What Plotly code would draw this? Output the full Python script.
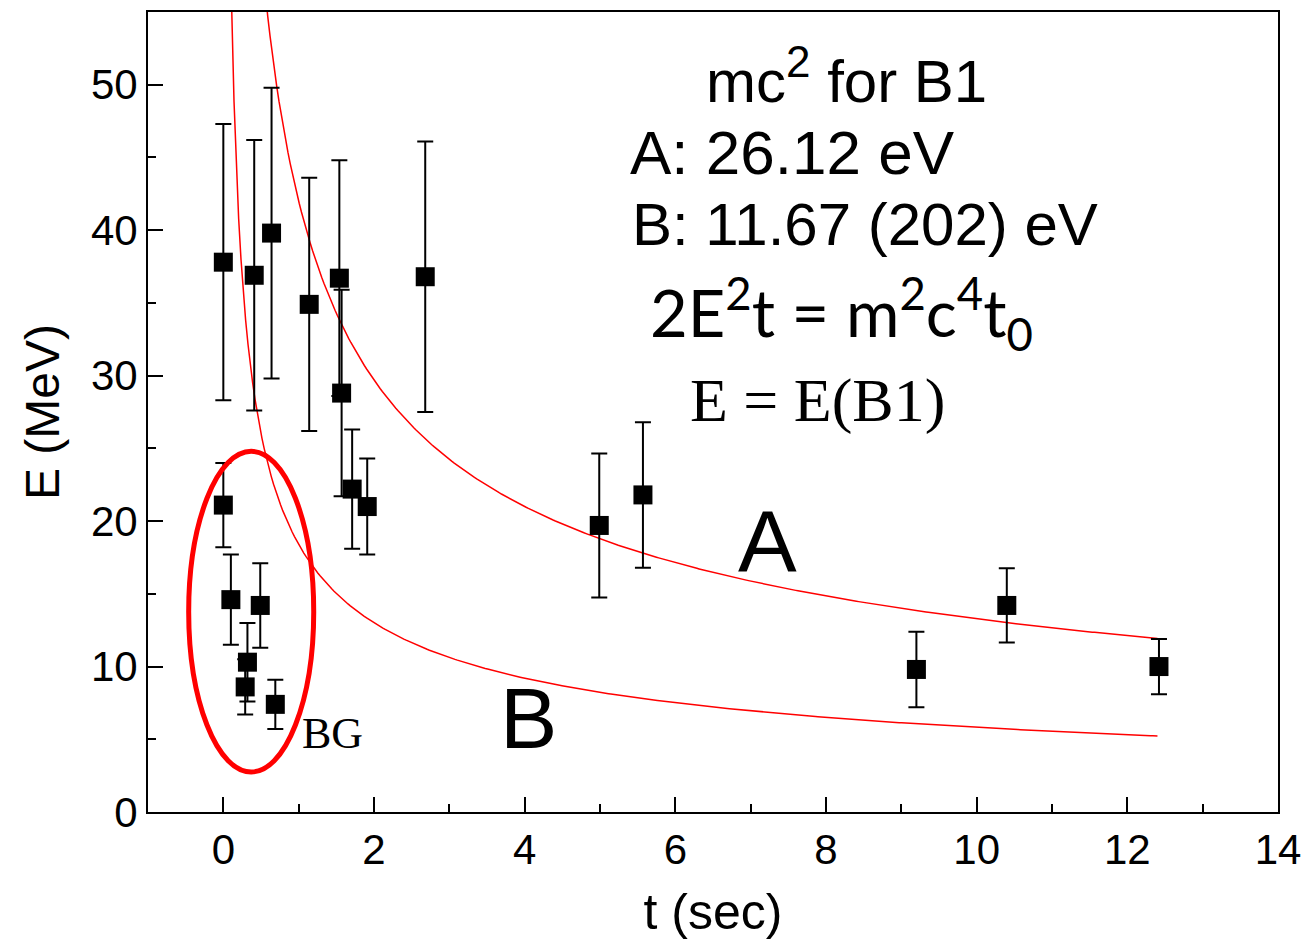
import numpy as np
import plotly.graph_objects as go

# ---- data ----
t_sec = [0.00, 0.41, 0.64, 1.14, 1.54, 2.68, 1.57, 1.71, 1.91,
         0.00, 0.10, 0.49, 0.32, 0.29, 0.69, 4.99, 5.57, 9.20, 10.40, 12.42]
E_mev = [37.8, 36.9, 39.8, 34.9, 36.7, 36.8, 28.8, 22.2, 21.0,
         21.1, 14.6, 14.2, 10.3, 8.6, 7.4, 19.7, 21.8, 9.8, 14.2, 10.0]
E_err = [9.5, 9.3, 10.0, 8.7, 8.1, 9.3, 7.1, 4.1, 3.3,
         2.9, 3.1, 2.9, 2.7, 1.9, 1.7, 4.95, 5.0, 2.6, 2.55, 1.9]

# fitted curves E = K / sqrt(t)  (2E^2 t = m^2c^4 t0)
K_A = 42.0
K_B = 18.4
t_end = 12.4

x_ticks = [0, 2, 4, 6, 8, 10, 12, 14]
y_ticks = [0, 10, 20, 30, 40, 50]

# ---- figure ----
W, H = 1304, 947
L, R, T, B = 148, 26, 12, 135
pw, ph = W - L - R, H - T - B

def px(xp):
    return (xp - L) / pw

def py(yp):
    return (H - B - yp) / ph

tA = np.linspace(0.5, t_end, 400)
tB = np.linspace(0.08, t_end, 400)

fig = go.Figure()
fig.add_trace(go.Scatter(x=tA, y=K_A / np.sqrt(tA), mode="lines",
                         line=dict(color="#ff0000", width=1.5), showlegend=False))
fig.add_trace(go.Scatter(x=tB, y=K_B / np.sqrt(tB), mode="lines",
                         line=dict(color="#ff0000", width=1.5), showlegend=False))
fig.add_trace(go.Scatter(x=t_sec, y=E_mev, mode="markers",
                         marker=dict(symbol="square", size=19, color="black"),
                         error_y=dict(type="data", array=E_err, color="black",
                                      thickness=2, width=8),
                         showlegend=False))

# red ellipse around BG points
fig.add_shape(type="circle", xref="x", yref="y",
              x0=-0.46, x1=1.2, y0=2.75, y1=24.8,
              line=dict(color="#ff0000", width=5))

arial = "Arial, Liberation Sans, sans-serif"
times = "Liberation Serif, Times New Roman, serif"
ann = [
    ("mc<sup><span style='font-size:44px'>2</span></sup> for B1", 704, 76, arial, 60),
    ("A: 26.12 eV", 628, 152, arial, 62),
    ("B: 11.67 (202) eV", 630, 224, arial, 60),
    ("2E<sup>2</sup>t = m<sup>2</sup>c<sup>4</sup>t<sub>0</sub>", 648, 313, "Lato, sans-serif", 65),
    ("E = E(B1)", 688, 400, times, 62),
    ("A", 736, 541, arial, 88),
    ("B", 498, 718, arial, 86),
    ("BG", 300, 733, times, 44),
]
for text, xx, yy, fam, sz in ann:
    fig.add_annotation(text=text, x=px(xx), y=py(yy), xref="paper", yref="paper",
                       showarrow=False, xanchor="left", yanchor="middle",
                       font=dict(family=fam, size=sz, color="black"))

axis_common = dict(showline=True, mirror=True, linecolor="black", linewidth=2,
                   ticks="inside", tickwidth=2, ticklen=15, tickcolor="black",
                   showgrid=False, zeroline=False, ticklabeloverflow="allow",
                   automargin=False,
                   tickfont=dict(family=arial, size=42, color="black"))

fig.update_xaxes(range=[-1, 14], tickvals=x_ticks, **axis_common,
                 minor=dict(ticks="inside", dtick=1, tick0=0, ticklen=8,
                            tickwidth=2, tickcolor="black", showgrid=False),
                 title=dict(text="t (sec)", font=dict(family=arial, size=50, color="black"),
                            standoff=22))
fig.update_yaxes(range=[0, 55], tickvals=y_ticks, **axis_common,
                 minor=dict(ticks="inside", dtick=5, tick0=0, ticklen=8,
                            tickwidth=2, tickcolor="black", showgrid=False),
                 title=dict(text="E (MeV)", font=dict(family=arial, size=48, color="black"),
                            standoff=16))

fig.update_layout(width=W, height=H, margin=dict(l=L, r=R, t=T, b=B),
                  plot_bgcolor="white", paper_bgcolor="white")

fig.write_html("out.html")
